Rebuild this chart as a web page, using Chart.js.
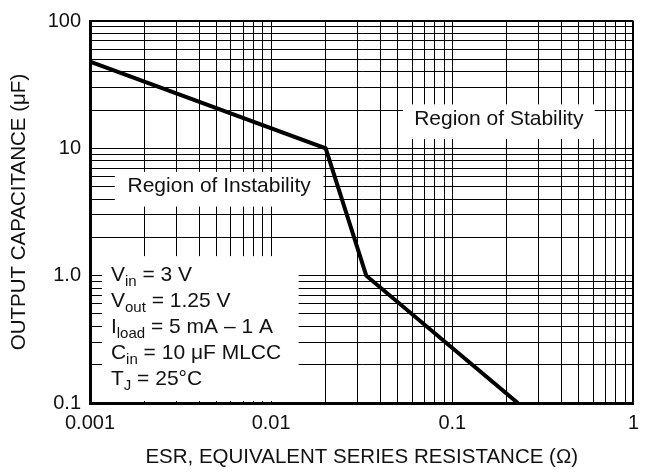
<!DOCTYPE html>
<html><head><meta charset="utf-8">
<script src="https://cdn.jsdelivr.net/npm/chart.js@4/dist/chart.umd.min.js"></script>
<style>html,body{margin:0;padding:0;background:#fff}#wrap{width:647px;height:472px;position:relative}</style>
</head><body><div id="wrap"><canvas id="c"></canvas></div>
<script>
// ---- data ----
const esr = [0.001, 0.02, 0.0335, 0.23];          // ESR (ohm)
const capacitance = [48, 10, 1.0, 0.1];           // output capacitance (uF)
const xTickValues = [0.001, 0.01, 0.1, 1];
const xTickLabels = ["0.001", "0.01", "0.1", "1"];
const yTickValues = [0.1, 1, 10, 100];
const yTickLabels = ["0.1", "1.0", "10", "100"];
const gridMultipliers = [1, 2, 3, 4, 5, 6, 7, 8, 9];
const regionLabels = ["Region of Instability", "Region of Stability"];
const conditionLines = [
  ["V", "in", " = 3 V"],
  ["V", "out", " = 1.25 V"],
  ["I", "load", " = 5 mA \u2013 1 A"],
  ["C", "in", " = 10 \u03BCF MLCC"],
  ["T", "J", " = 25\u00B0C"]
];
const xTitle = "ESR, EQUIVALENT SERIES RESISTANCE (\u03A9)";
const yTitle = "OUTPUT CAPACITANCE (\u03BCF)";

// ---- layout (data coordinates for the boxes) ----
const FONT = "'Liberation Sans', Arial, Helvetica, sans-serif";
const boxes = [
  {x1: 0.001371, x2: 0.01945, y1: 6.54, y2: 3.49, text: regionLabels[0]},
  {x1: 0.0534, x2: 0.611, y1: 22.15, y2: 11.82, text: regionLabels[1]}
];
const condBox = {x1: 0.001164, x2: 0.01418, y1: 1.423, y2: 0.1};

function gridTicks(values) {
  const t = [];
  for (let i = 0; i < values.length - 1; i++) {
    for (const m of gridMultipliers) t.push({value: +(m * values[i]).toPrecision(4)});
  }
  t.push({value: values[values.length - 1]});
  return t;
}
function labelFor(values, labels, v) {
  for (let i = 0; i < values.length; i++) {
    if (Math.abs(Math.log10(v) - Math.log10(values[i])) < 1e-6) return labels[i];
  }
  return '';
}

const regionPlugin = {
  id: 'regions',
  beforeDatasetsDraw(chart) {
    const {ctx, scales: {x, y}} = chart;
    ctx.save();
    for (const b of boxes) {
      const L = x.getPixelForValue(b.x1), R = x.getPixelForValue(b.x2);
      const T = y.getPixelForValue(b.y1), B = y.getPixelForValue(b.y2);
      ctx.fillStyle = '#fff';
      ctx.fillRect(L, T, R - L, B - T);
      ctx.fillStyle = '#111';
      ctx.font = '21px ' + FONT;
      ctx.textAlign = 'center';
      ctx.textBaseline = 'middle';
      ctx.fillText(b.text, (L + R) / 2, (T + B) / 2 - 2.5);
    }
    // conditions box
    const L = x.getPixelForValue(condBox.x1), R = x.getPixelForValue(condBox.x2);
    const T = y.getPixelForValue(condBox.y1), B = y.getPixelForValue(condBox.y2) - 2;
    ctx.fillStyle = '#fff';
    ctx.fillRect(L, T, R - L, B - T);
    ctx.fillStyle = '#111';
    ctx.textAlign = 'left';
    ctx.textBaseline = 'alphabetic';
    conditionLines.forEach((ln, i) => {
      let cx = L + 9;
      const by = T + 24.5 + i * 26.2;
      ctx.font = '21px ' + FONT;
      ctx.fillText(ln[0], cx, by);
      cx += ctx.measureText(ln[0]).width;
      ctx.font = '15px ' + FONT;
      ctx.fillText(ln[1], cx, by + 5);
      cx += ctx.measureText(ln[1]).width;
      ctx.font = '21px ' + FONT;
      ctx.fillText(ln[2], cx, by);
    });
    ctx.restore();
  }
};

new Chart(document.getElementById('c'), {
  type: 'line',
  data: {
    datasets: [{
      data: esr.map((v, i) => ({x: v, y: capacitance[i]})),
      borderColor: '#000',
      borderWidth: 4,
      pointRadius: 0,
      tension: 0,
      fill: false
    }]
  },
  plugins: [regionPlugin],
  options: {
    responsive: true,
    maintainAspectRatio: false,
    animation: false,
    events: [],
    layout: {padding: {top: 18, right: 10, left: 0, bottom: 0}},
    plugins: {legend: {display: false}, tooltip: {enabled: false}},
    scales: {
      x: {
        type: 'logarithmic',
        min: 0.001, max: 1,
        afterBuildTicks: s => { s.ticks = gridTicks(xTickValues); },
        afterFit: s => { s.height = 69; },
        grid: {color: '#000', lineWidth: c => (c.index === 27 ? 2 : 1), drawTicks: false},
        border: {color: '#000', width: 3},
        ticks: {
          autoSkip: false, maxRotation: 0, padding: 8, color: '#111',
          font: {family: FONT, size: 20},
          callback: v => labelFor(xTickValues, xTickLabels, v)
        },
        title: {display: true, text: xTitle, color: '#111', font: {family: FONT, size: 20.5}, padding: {top: 0, bottom: 2}}
      },
      y: {
        type: 'logarithmic',
        min: 0.1, max: 100,
        afterBuildTicks: s => { s.ticks = gridTicks(yTickValues); },
        afterFit: s => { s.width = 90; },
        grid: {color: '#000', lineWidth: c => (c.index === 27 ? 2 : 1), drawTicks: false},
        border: {color: '#000', width: 3},
        ticks: {
          autoSkip: false, padding: 9, color: '#111',
          font: {family: FONT, size: 20},
          callback: v => labelFor(yTickValues, yTickLabels, v)
        },
        title: {display: true, text: yTitle, color: '#111', font: {family: FONT, size: 20.5}, padding: {top: 7, bottom: 0}}
      }
    }
  }
});
</script>
</body></html>
